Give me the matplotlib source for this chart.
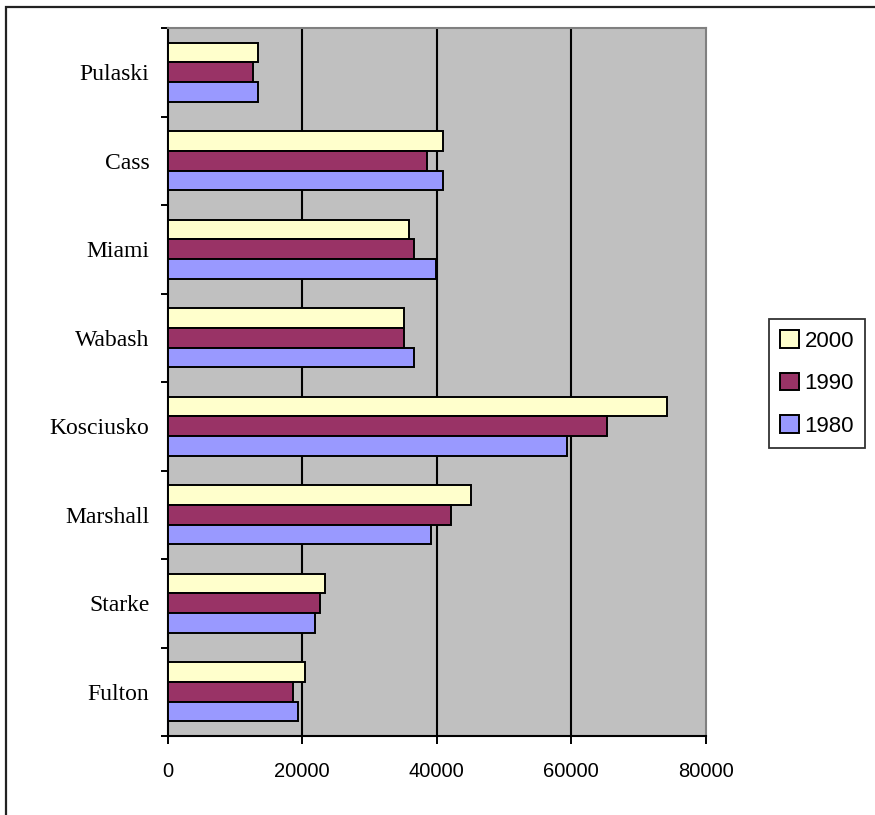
import matplotlib
matplotlib.use("Agg")
from matplotlib import pyplot as plt
from matplotlib.patches import Rectangle
import numpy as np

counties = ["Fulton", "Starke", "Marshall", "Kosciusko", "Wabash", "Miami", "Cass", "Pulaski"]
pop_2000 = [20470, 23400, 45090, 74160, 35180, 35880, 40975, 13490]
pop_1990 = [18690, 22700, 42160, 65340, 35180, 36670, 38500, 12750]
pop_1980 = [19340, 21910, 39150, 59400, 36670, 39890, 40975, 13490]
series = [("2000", pop_2000, "#FFFFCC"), ("1990", pop_1990, "#993366"), ("1980", pop_1980, "#9999FF")]

fig = plt.figure(figsize=(8.75, 8.15), dpi=100)
ax = fig.add_axes([167.5 / 875, 1 - 736 / 815, 538.5 / 875, 708 / 815])
ax.set_facecolor("#C0C0C0")

# outer chart border (runs off right and bottom)
fig.patches.append(Rectangle((6 / 875, -0.1), 1.0, (815 - 7) / 815 + 0.1,
                             transform=fig.transFigure, fill=False,
                             edgecolor="#222222", linewidth=1.6))

y = np.arange(len(counties))
h = 0.222
for i, (name, vals, col) in enumerate(series):
    ax.barh(y + (1 - i) * h, vals, height=h, color=col, edgecolor="black",
            linewidth=1.4, label=name, zorder=3)

ax.set_xlim(0, 80000)
ax.set_ylim(-0.5, len(counties) - 0.5)
ax.set_xticks([0, 20000, 40000, 60000, 80000])
ax.set_xticklabels(["0", "20000", "40000", "60000", "80000"],
                   fontfamily="Liberation Sans", fontsize=14.5)
ax.set_yticks(y)
ax.set_yticklabels(counties, fontfamily="Liberation Serif", fontsize=17)
ax.set_yticks(np.arange(len(counties) + 1) - 0.5, minor=True)
ax.tick_params(axis="y", which="major", length=0, pad=13)
ax.tick_params(axis="y", which="minor", length=5, width=1.4, direction="out")
ax.tick_params(axis="x", which="major", length=6, width=1.4, direction="out", pad=13)

for gx in [20000, 40000, 60000]:
    ax.axvline(gx, color="black", linewidth=1.5, zorder=1)

for s in ["top", "right"]:
    ax.spines[s].set_color("#808080")
    ax.spines[s].set_linewidth(1.5)
for s in ["left", "bottom"]:
    ax.spines[s].set_color("black")
    ax.spines[s].set_linewidth(1.5)

leg = fig.legend(loc="upper left", bbox_to_anchor=(769 / 875, 1 - 319 / 815),
                 prop={"family": "Liberation Sans", "size": 16},
                 frameon=True, fancybox=False, edgecolor="black",
                 handlelength=0.85, handleheight=0.85, handletextpad=0.25,
                 borderpad=0.5, labelspacing=0.95, borderaxespad=0)
leg.get_frame().set_linewidth(1.3)

fig.savefig("out.png", dpi=100)
